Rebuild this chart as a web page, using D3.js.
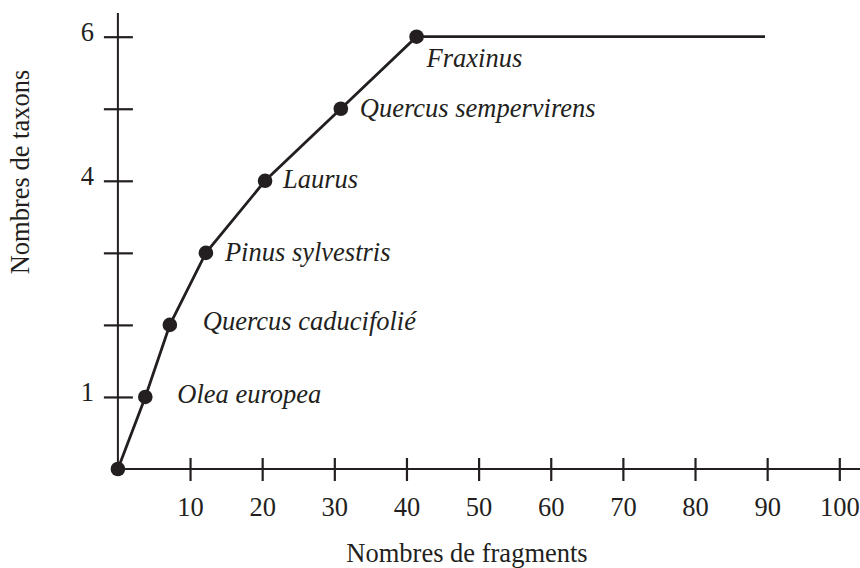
<!DOCTYPE html>
<html>
<head>
<meta charset="utf-8">
<script src="https://cdn.jsdelivr.net/npm/d3@7"></script>
<style>
    body { margin: 0; background: #fff; }
    svg text { font-family: "Liberation Serif", "Times New Roman", serif; fill: #231f20; }
</style>
</head>
<body>
<div id="chart"></div>
<script>
// data
const fragments = [0, 3.8, 7.2, 12.2, 20.4, 30.9, 41.4, 89.7];
const taxa = [0, 1, 2, 3, 4, 5, 6, 6];
const taxonNames = ['', 'Olea europea', 'Quercus caducifolié', 'Pinus sylvestris', 'Laurus', 'Quercus sempervirens', 'Fraxinus', ''];
const xTicks = [10, 20, 30, 40, 50, 60, 70, 80, 90, 100];
const yTicks = [1, 2, 3, 4, 5, 6];
const yTickLabels = { 1: '1', 4: '4', 6: '6' };

// label offsets (px) from each point
const labelOffsets = [null, [32, 6], [33, 5], [19, 8], [18, 7], [19, 8], [10, 30], null];

const width = 860, height = 568;
const ink = '#231f20';
const fontSize = 26.5;

const svg = d3.select('#chart')
    .append('svg')
    .attr('width', width)
    .attr('height', height);

// scales
var x = d3.scaleLinear().domain([0, 100]).range([117.9, 839.3]);
var y = d3.scaleLinear().domain([0, 6]).range([469, 36.7]);

// x axis
var xAxis = svg.append('g')
    .attr('transform', 'translate(0,' + y(0) + ')')
    .call(d3.axisBottom(x).tickValues(xTicks).tickSize(0).tickPadding(28));
xAxis.select('.domain').remove();
xAxis.append('line')
    .attr('x1', x(0)).attr('x2', width)
    .attr('stroke', ink).attr('stroke-width', 2);
xAxis.selectAll('.tick line')
    .attr('y1', -11).attr('y2', 12)
    .attr('stroke', ink).attr('stroke-width', 2.2);
xAxis.selectAll('.tick text')
    .attr('font-size', fontSize)
    .attr('font-family', '"Liberation Serif", serif')
    .attr('fill', ink);

// y axis
var yAxis = svg.append('g')
    .attr('transform', 'translate(' + x(0) + ',0)')
    .call(d3.axisLeft(y).tickValues(yTicks).tickSize(0).tickPadding(24)
        .tickFormat(function (d) { return yTickLabels[d] || ''; }));
yAxis.select('.domain').remove();
yAxis.append('line')
    .attr('y1', y(0)).attr('y2', 13)
    .attr('stroke', ink).attr('stroke-width', 2);
yAxis.selectAll('.tick line')
    .attr('x1', -14).attr('x2', 15)
    .attr('stroke', ink).attr('stroke-width', 2.2);
yAxis.selectAll('.tick text')
    .attr('font-size', fontSize)
    .attr('font-family', '"Liberation Serif", serif')
    .attr('fill', ink)
    .attr('dy', '0.15em');

// curve
var points = fragments.map(function (d, i) {
    return { x: d, y: taxa[i], name: taxonNames[i], off: labelOffsets[i] };
});

var line = d3.line()
    .x(function (d) { return x(d.x); })
    .y(function (d) { return y(d.y); });

svg.append('path')
    .datum(points)
    .attr('fill', 'none')
    .attr('stroke', ink)
    .attr('stroke-width', 2.8)
    .attr('d', line);

// dots (not on the end of the plateau)
svg.selectAll('circle')
    .data(points.slice(0, points.length - 1))
    .enter()
    .append('circle')
    .attr('cx', function (d) { return x(d.x); })
    .attr('cy', function (d) { return y(d.y); })
    .attr('r', 7.3)
    .attr('fill', ink);

// taxon labels
svg.selectAll('.taxon')
    .data(points.filter(function (d) { return d.name; }))
    .enter()
    .append('text')
    .attr('class', 'taxon')
    .attr('x', function (d) { return x(d.x) + d.off[0]; })
    .attr('y', function (d) { return y(d.y) + d.off[1]; })
    .attr('font-size', fontSize)
    .attr('font-style', 'italic')
    .text(function (d) { return d.name; });

// axis titles
svg.append('text')
    .attr('x', 467)
    .attr('y', 562)
    .attr('text-anchor', 'middle')
    .attr('font-size', fontSize)
    .text('Nombres de fragments');

svg.append('text')
    .attr('transform', 'translate(29,' + 172 + ') rotate(-90)')
    .attr('text-anchor', 'middle')
    .attr('font-size', fontSize)
    .text('Nombres de taxons');
</script>
</body>
</html>
